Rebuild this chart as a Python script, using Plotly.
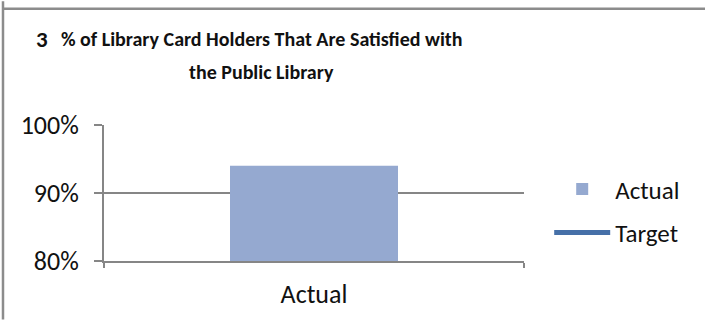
import plotly.graph_objects as go

# data
categories = ["Actual"]
actual = [0.94]
target = [0.90]   # single point line -> nothing drawn, only legend

FONT = "Carlito, Calibri, Liberation Sans Narrow, Liberation Sans, sans-serif"
GRAY = "#868686"

fig = go.Figure()
fig.add_trace(go.Bar(x=categories, y=actual, name="Actual",
                     marker=dict(color="#95A9D0", line=dict(width=0)),
                     legendgroup="a"))
fig.add_trace(go.Scatter(x=categories, y=target, name="Target", mode="lines",
                         line=dict(color="#4670A8", width=5),
                         legendgroup="b"))

fig.update_layout(
    width=705, height=322,
    margin=dict(l=104, r=181, t=125, b=59),
    paper_bgcolor="white", plot_bgcolor="white",
    font=dict(family=FONT, size=25, color="#111111"),
    bargap=0.6,
    showlegend=True,
    legend=dict(x=1.06, y=0.37, yanchor="middle", xanchor="left",
                tracegroupgap=8, itemwidth=56, font=dict(size=25),
                bgcolor="rgba(0,0,0,0)"),
    xaxis=dict(range=[-0.5, 0.5], showgrid=False, showline=True,
               linecolor=GRAY, linewidth=2, ticks="outside",
               tickson="boundaries", ticklen=5, tickcolor=GRAY, tickwidth=2,
               ticklabelstandoff=9, tickfont=dict(size=26)),
    yaxis=dict(range=[0.8, 1.0], dtick=0.1, tickformat=".0%",
               showgrid=True, gridcolor=GRAY, gridwidth=1.5,
               showline=True, linecolor=GRAY, linewidth=2,
               ticks="outside", ticklen=8, tickcolor=GRAY, tickwidth=1.5,
               ticklabelstandoff=10,
               zeroline=False, tickfont=dict(size=26)),
)

# title text
fig.add_annotation(text="<b>3</b>", xref="paper", yref="paper",
                   x=-0.148, y=1.635, xanchor="center", yanchor="middle",
                   showarrow=False,
                   font=dict(family=FONT, size=23, color="#111111"))
fig.add_annotation(text="<b>% of Library Card Holders That Are Satisfied with</b>",
                   xref="paper", yref="paper", x=0.374, y=1.635,
                   xanchor="center", yanchor="middle", showarrow=False,
                   font=dict(family=FONT, size=20, color="#111111"))
fig.add_annotation(text="<b>the Public Library</b>",
                   xref="paper", yref="paper", x=0.374, y=1.39,
                   xanchor="center", yanchor="middle", showarrow=False,
                   font=dict(family=FONT, size=20, color="#111111"))

# frame lines of the report cell
fig.add_shape(type="line", xref="paper", yref="paper",
              x0=-0.2405, x1=-0.2405, y0=-0.43, y1=1.91,
              line=dict(color="#8C8C8C", width=2.5))
fig.add_shape(type="line", xref="paper", yref="paper",
              x0=-0.2405, x1=1.44, y0=1.855, y1=1.855,
              line=dict(color="#8C8C8C", width=2.5))

fig.write_html("out.html", config={"displayModeBar": False},
               post_script="document.body.style.margin='0';")
